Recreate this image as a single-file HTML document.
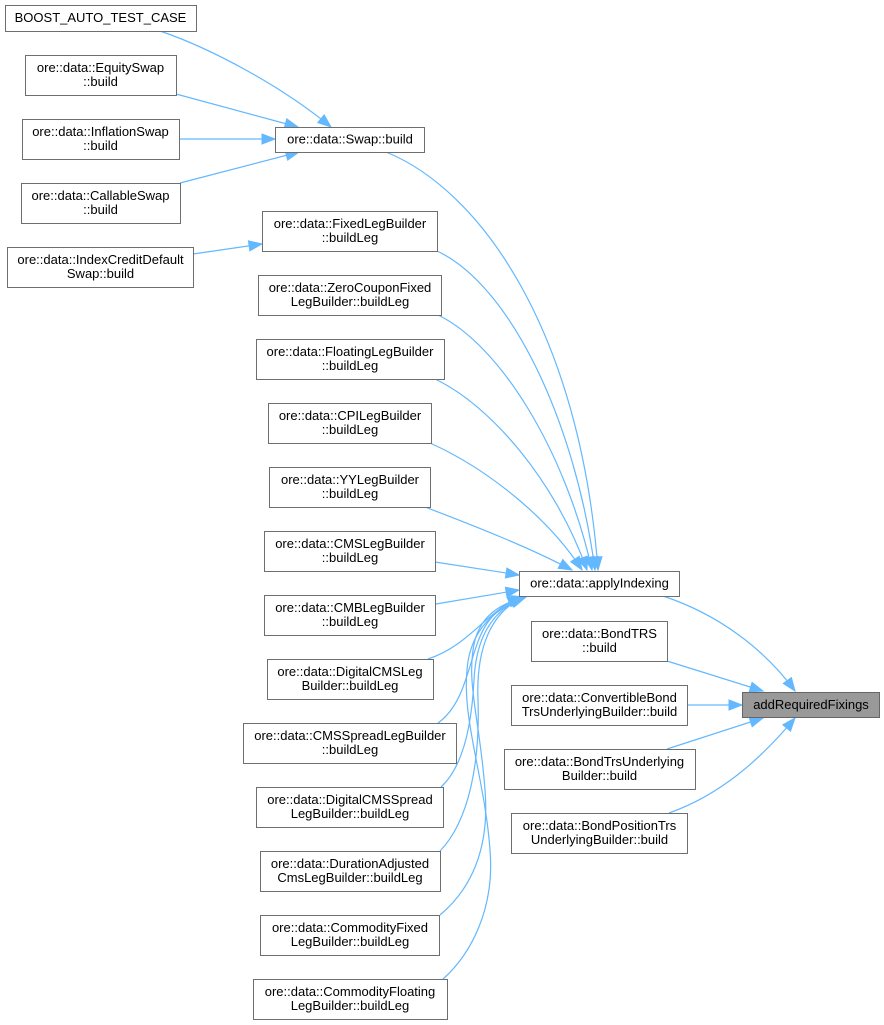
<!DOCTYPE html>
<html><head><meta charset="utf-8"><style>
html,body{margin:0;padding:0;background:#fff;}
svg{display:block;}
text{font-family:"Liberation Sans",Arial,sans-serif;font-size:13px;fill:#000;}
.n{fill:#fff;stroke:#6e6e6e;stroke-width:1;}
.e{fill:none;stroke:#63b8ff;stroke-width:1.2;marker-end:url(#a);}
</style></head><body>
<svg width="884" height="1025" viewBox="0 0 884 1025" xmlns="http://www.w3.org/2000/svg">
<defs>
<marker id="a" markerUnits="userSpaceOnUse" markerWidth="16" markerHeight="12" viewBox="-1 -1 16 12" refX="13" refY="5" orient="auto" overflow="visible">
<path d="M0,0 L13,5 L0,10 z" fill="#63b8ff" stroke="#63b8ff" stroke-width="1" stroke-linejoin="miter"/>
</marker>
</defs>

<!-- edges -->
<path class="e" d="M160,31 C210,48 280,85 331,127"/>
<path class="e" d="M176,94 L298,127"/>
<path class="e" d="M179,139 L275,139"/>
<path class="e" d="M180,183 L299,152"/>
<path class="e" d="M193,254 L262,244"/>

<path class="e" d="M386,152 C480,190 580,330 598,570"/>
<path class="e" d="M437,251 C510,285 575,420 595,570"/>
<path class="e" d="M438,315 C500,345 565,450 592,570"/>
<path class="e" d="M435,379 C490,405 555,480 587,570"/>
<path class="e" d="M430,443 C490,470 550,520 582,570"/>
<path class="e" d="M425,507 C480,528 530,548 572,570"/>
<path class="e" d="M435,562 L519,575"/>
<path class="e" d="M436,604 L519,590"/>
<path class="e" d="M428,659 C470,645 485,612 521,597"/>
<path class="e" d="M438,723 C470,700 468,650 488,622 C498,608 508,602 522,597"/>
<path class="e" d="M441,787 C465,765 472,720 474,680 C476,640 490,612 523,597"/>
<path class="e" d="M440,851 C470,820 480,760 478,700 C476,650 490,612 524,597"/>
<path class="e" d="M440,915 C470,890 490,850 485,790 C480,720 465,680 475,640 C482,615 500,604 525,597"/>
<path class="e" d="M443,979 C470,955 495,910 490,850 C485,780 462,720 467,670 C470,630 495,608 526,597"/>

<path class="e" d="M663,596 C720,615 765,650 795,691"/>
<path class="e" d="M667,661 L763,691"/>
<path class="e" d="M687,705 L742,705"/>
<path class="e" d="M667,749 L763,718"/>
<path class="e" d="M669,813 C720,795 760,760 795,718"/>

<!-- nodes -->
<rect class="n" x="5.5" y="5.5" width="191" height="26"/>
<text x="100.5" y="22" text-anchor="middle">BOOST_AUTO_TEST_CASE</text>

<rect class="n" x="25.5" y="55.5" width="151" height="40"/>
<text x="100.5" y="72" text-anchor="middle">ore::data::EquitySwap</text>
<text x="100.5" y="86" text-anchor="middle">::build</text>

<rect class="n" x="22.5" y="119.5" width="157" height="40"/>
<text x="100.5" y="136" text-anchor="middle">ore::data::InflationSwap</text>
<text x="100.5" y="150" text-anchor="middle">::build</text>

<rect class="n" x="21.5" y="183.5" width="159" height="40"/>
<text x="100.5" y="200" text-anchor="middle">ore::data::CallableSwap</text>
<text x="100.5" y="214" text-anchor="middle">::build</text>

<rect class="n" x="7.5" y="247.5" width="186" height="40"/>
<text x="100.5" y="264" text-anchor="middle">ore::data::IndexCreditDefault</text>
<text x="100.5" y="278" text-anchor="middle">Swap::build</text>

<rect class="n" x="275.5" y="127.5" width="149" height="25"/>
<text x="350" y="143.5" text-anchor="middle">ore::data::Swap::build</text>

<rect class="n" x="262.5" y="211.5" width="175" height="40"/>
<text x="350" y="228" text-anchor="middle">ore::data::FixedLegBuilder</text>
<text x="350" y="242" text-anchor="middle">::buildLeg</text>

<rect class="n" x="258.5" y="275.5" width="183" height="40"/>
<text x="350" y="292" text-anchor="middle">ore::data::ZeroCouponFixed</text>
<text x="350" y="306" text-anchor="middle">LegBuilder::buildLeg</text>

<rect class="n" x="256.5" y="339.5" width="188" height="40"/>
<text x="350" y="356" text-anchor="middle">ore::data::FloatingLegBuilder</text>
<text x="350" y="370" text-anchor="middle">::buildLeg</text>

<rect class="n" x="268.5" y="403.5" width="163" height="40"/>
<text x="350" y="420" text-anchor="middle">ore::data::CPILegBuilder</text>
<text x="350" y="434" text-anchor="middle">::buildLeg</text>

<rect class="n" x="269.5" y="467.5" width="161" height="40"/>
<text x="350" y="484" text-anchor="middle">ore::data::YYLegBuilder</text>
<text x="350" y="498" text-anchor="middle">::buildLeg</text>

<rect class="n" x="264.5" y="531.5" width="171" height="40"/>
<text x="350" y="548" text-anchor="middle">ore::data::CMSLegBuilder</text>
<text x="350" y="562" text-anchor="middle">::buildLeg</text>

<rect class="n" x="264.5" y="595.5" width="171" height="40"/>
<text x="350" y="612" text-anchor="middle">ore::data::CMBLegBuilder</text>
<text x="350" y="626" text-anchor="middle">::buildLeg</text>

<rect class="n" x="267.5" y="659.5" width="166" height="40"/>
<text x="350" y="676" text-anchor="middle">ore::data::DigitalCMSLeg</text>
<text x="350" y="690" text-anchor="middle">Builder::buildLeg</text>

<rect class="n" x="243.5" y="723.5" width="213" height="40"/>
<text x="350" y="740" text-anchor="middle">ore::data::CMSSpreadLegBuilder</text>
<text x="350" y="754" text-anchor="middle">::buildLeg</text>

<rect class="n" x="256.5" y="787.5" width="187" height="40"/>
<text x="350" y="804" text-anchor="middle">ore::data::DigitalCMSSpread</text>
<text x="350" y="818" text-anchor="middle">LegBuilder::buildLeg</text>

<rect class="n" x="260.5" y="851.5" width="180" height="40"/>
<text x="350" y="868" text-anchor="middle">ore::data::DurationAdjusted</text>
<text x="350" y="882" text-anchor="middle">CmsLegBuilder::buildLeg</text>

<rect class="n" x="260.5" y="915.5" width="179" height="40"/>
<text x="350" y="932" text-anchor="middle">ore::data::CommodityFixed</text>
<text x="350" y="946" text-anchor="middle">LegBuilder::buildLeg</text>

<rect class="n" x="253.5" y="979.5" width="194" height="40"/>
<text x="350" y="996" text-anchor="middle">ore::data::CommodityFloating</text>
<text x="350" y="1010" text-anchor="middle">LegBuilder::buildLeg</text>

<rect class="n" x="519.5" y="571.5" width="160" height="25"/>
<text x="599.5" y="587.5" text-anchor="middle">ore::data::applyIndexing</text>

<rect class="n" x="531.5" y="621.5" width="136" height="40"/>
<text x="599.5" y="638" text-anchor="middle">ore::data::BondTRS</text>
<text x="599.5" y="652" text-anchor="middle">::build</text>

<rect class="n" x="511.5" y="685.5" width="176" height="40"/>
<text x="599.5" y="702" text-anchor="middle">ore::data::ConvertibleBond</text>
<text x="599.5" y="716" text-anchor="middle">TrsUnderlyingBuilder::build</text>

<rect class="n" x="504.5" y="749.5" width="191" height="40"/>
<text x="599.5" y="766" text-anchor="middle">ore::data::BondTrsUnderlying</text>
<text x="599.5" y="780" text-anchor="middle">Builder::build</text>

<rect class="n" x="511.5" y="813.5" width="176" height="40"/>
<text x="599.5" y="830" text-anchor="middle">ore::data::BondPositionTrs</text>
<text x="599.5" y="844" text-anchor="middle">UnderlyingBuilder::build</text>

<rect x="742.5" y="692.5" width="137" height="25" fill="#999" stroke="#666" stroke-width="1"/>
<text x="811" y="709" text-anchor="middle">addRequiredFixings</text>
</svg>
</body></html>
